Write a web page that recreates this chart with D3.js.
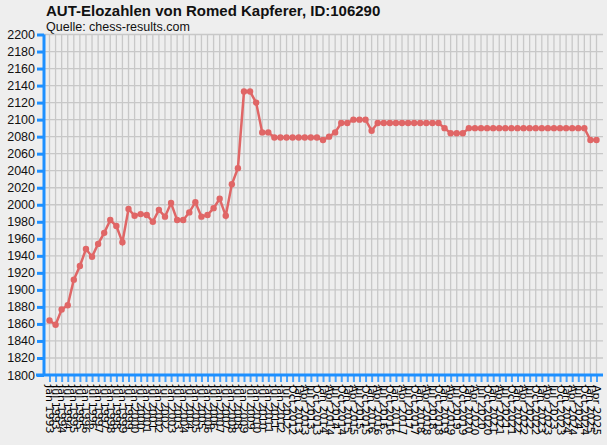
<!DOCTYPE html>
<html>
<head>
<meta charset="utf-8">
<script src="https://cdn.jsdelivr.net/npm/d3@7"></script>
<style>
  body { margin: 0; background: #eeeeee; }
  svg { display: block; }
</style>
</head>
<body>
<svg class="chart"></svg>
<script>
let width = 607,
  height = 445;

// rating list dates (x categories)
let dates = [
  "Jan 1993", "Jul 1993", "Jan 1994", "Jul 1994", "Jan 1995", "Jul 1995",
  "Jan 1996", "Jul 1996", "Jan 1997", "Jul 1997", "Jan 1998", "Jul 1998",
  "Jan 1999", "Jul 1999", "Jan 2000", "Jul 2000", "Jan 2001", "Jul 2001",
  "Jan 2002", "Jul 2002", "Jan 2003", "Jul 2003", "Jan 2004", "Jul 2004",
  "Jan 2005", "Jul 2005", "Jan 2006", "Jul 2006", "Jan 2007", "Jul 2007",
  "Jan 2008", "Jul 2008", "Jan 2009", "Jul 2009", "Jan 2010", "Jul 2010",
  "Jan 2011", "Jul 2011", "Jan 2012", "Jul 2012", "Oct 2012",
  "Jan 2013", "Apr 2013", "Jul 2013", "Oct 2013",
  "Jan 2014", "Apr 2014", "Jul 2014", "Oct 2014",
  "Jan 2015", "Apr 2015", "Jul 2015", "Oct 2015",
  "Jan 2016", "Apr 2016", "Jul 2016", "Oct 2016",
  "Jan 2017", "Apr 2017", "Jul 2017", "Oct 2017",
  "Jan 2018", "Apr 2018", "Jul 2018", "Oct 2018",
  "Jan 2019", "Apr 2019", "Jul 2019", "Oct 2019",
  "Jan 2020", "Apr 2020", "Jul 2020", "Oct 2020",
  "Jan 2021", "Apr 2021", "Jul 2021", "Oct 2021",
  "Jan 2022", "Apr 2022", "Jul 2022", "Oct 2022",
  "Jan 2023", "Apr 2023", "Jul 2023", "Oct 2023",
  "Jan 2024", "Apr 2024", "Jul 2024", "Oct 2024",
  "Jan 2025", "Apr 2025", "Jul 2025"
];

// elo values
let elo = [
  1864, 1859, 1877, 1882, 1912, 1928, 1948, 1939, 1954, 1967,
  1982, 1975, 1956, 1995, 1987, 1989, 1988, 1980, 1994, 1986,
  2002, 1982, 1982, 1991, 2003, 1986, 1988, 1996, 2007, 1987,
  2024, 2043, 2133, 2133, 2120, 2085, 2085, 2079, 2079, 2079,
  2079, 2079, 2079, 2079, 2079, 2076, 2080, 2085, 2096, 2096,
  2100, 2100, 2100, 2087, 2096, 2096, 2096, 2096, 2096, 2096,
  2096, 2096, 2096, 2096, 2096, 2090, 2084, 2084, 2084, 2090,
  2090, 2090, 2090, 2090, 2090, 2090, 2090, 2090, 2090, 2090,
  2090, 2090, 2090, 2090, 2090, 2090, 2090, 2090, 2090, 2076,
  2076
];

let yTicks = d3.range(1800, 2201, 20);

let plotLeft = 44, plotTop = 34.5, plotBottom = 375, plotRight = 603;
let axisBlue = "#1e90ff";
let lineRed = "#e06666";

let svg = d3.select(".chart").attr("width", width).attr("height", height);

let x = d3.scalePoint().domain(d3.range(elo.length)).range([49.5, 596.5]);
let y = d3.scaleLinear().domain([1800, 2200]).range([plotBottom, plotTop]);

svg.append("rect").attr("width", width).attr("height", height).attr("fill", "#eeeeee");

// title
svg.append("text")
  .attr("x", 46).attr("y", 16)
  .style("font", "bold 15px 'Liberation Sans', Arial, sans-serif")
  .attr("fill", "#111")
  .text("AUT-Elozahlen von Romed Kapferer, ID:106290");
svg.append("text")
  .attr("x", 46).attr("y", 31)
  .style("font", "12.5px 'Liberation Sans', Arial, sans-serif")
  .attr("fill", "#111")
  .text("Quelle: chess-results.com");

// grid
let grid = svg.append("g").attr("stroke", "#c8c8c8").attr("stroke-width", 1.3);
grid.selectAll(".hg")
  .data(yTicks)
  .enter()
  .append("line")
  .attr("x1", plotLeft).attr("x2", plotRight)
  .attr("y1", (d) => y(d)).attr("y2", (d) => y(d));
grid.selectAll(".vg")
  .data(elo)
  .enter()
  .append("line")
  .attr("x1", (d, i) => x(i)).attr("x2", (d, i) => x(i))
  .attr("y1", plotTop).attr("y2", plotBottom);

// y axis
let yAxis = svg.append("g")
  .attr("transform", "translate(" + plotLeft + ",0)")
  .call(d3.axisLeft(y).tickValues(yTicks).tickSize(7).tickPadding(2).tickFormat(d3.format("d")));
yAxis.select(".domain").attr("stroke", axisBlue).attr("stroke-width", 3).attr("d", "M0," + plotTop + "V" + plotBottom);
yAxis.selectAll(".tick line").attr("stroke", axisBlue).attr("stroke-width", 3);
yAxis.selectAll(".tick text")
  .attr("fill", "#111")
  .style("font", "12.5px 'Liberation Sans', Arial, sans-serif");

// x axis
let xAxis = svg.append("g")
  .attr("transform", "translate(0," + plotBottom + ")")
  .call(d3.axisBottom(x).tickSize(7).tickFormat((i) => dates[i]));
xAxis.select(".domain").attr("stroke", axisBlue).attr("stroke-width", 3).attr("d", "M" + (plotLeft - 8) + ",0H" + plotRight);
xAxis.selectAll(".tick line").attr("stroke", axisBlue).attr("stroke-width", 2).attr("stroke-opacity", 0.8);
xAxis.selectAll(".tick text")
  .attr("fill", "#000")
  .attr("text-anchor", "start")
  .attr("dy", null)
  .attr("transform", "translate(-4,10) rotate(90)")
  .attr("x", 0).attr("y", 0)
  .style("font", "11px 'DejaVu Sans', sans-serif");

// line and markers
let line = d3.line().x((d, i) => x(i)).y((d) => y(d));
svg.append("path")
  .datum(elo)
  .attr("fill", "none")
  .attr("stroke", lineRed)
  .attr("stroke-width", 2.5)
  .attr("d", line);

svg.selectAll(".pt")
  .data(elo)
  .enter()
  .append("circle")
  .attr("class", "pt")
  .attr("cx", (d, i) => x(i))
  .attr("cy", (d) => y(d))
  .attr("r", 3.2)
  .attr("fill", lineRed);
</script>
</body>
</html>
